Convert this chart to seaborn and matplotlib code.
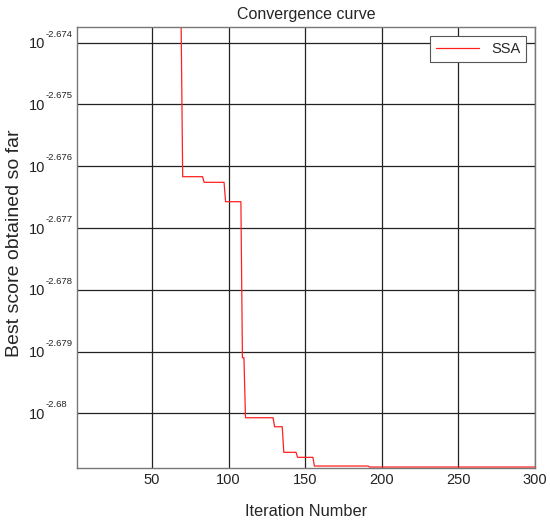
import matplotlib
matplotlib.use("Agg")
import matplotlib.pyplot as plt
import matplotlib.transforms as mtransforms
import numpy as np
import pandas as pd
import seaborn as sns

sns.set_style("white")
plt.rcParams["font.family"] = ["Liberation Sans", "DejaVu Sans"]

# values: iteration where each step starts, and log10 of the best score
step_start = [1, 70, 84, 98, 109, 111, 130, 136, 145, 156, 192]
step_exponent = [-2.67375, -2.676169, -2.67626, -2.676574, -2.6791, -2.680071,
                 -2.680217, -2.680631, -2.680712, -2.680853, -2.680869]
n_iter = 300

x_ticks = [50, 100, 150, 200, 250, 300]
y_tick_exponents = [-2.674, -2.675, -2.676, -2.677, -2.678, -2.679, -2.68]
y_tick_labels = ["-2.674", "-2.675", "-2.676", "-2.677", "-2.678", "-2.679", "-2.68"]

iterations = np.arange(1, n_iter + 1)
lengths = np.diff(step_start + [n_iter + 1])
best_score = 10 ** np.repeat(step_exponent, lengths)
df = pd.DataFrame({"Iteration": iterations, "Best": best_score})

fig = plt.figure(figsize=(5.5, 5.21), dpi=100)
ax = fig.add_axes([0.14, 0.1017, 0.8327, 0.846])

sns.lineplot(data=df, x="Iteration", y="Best", color="#ff2020", linewidth=0.9,
             label="SSA", ax=ax)

ax.set_yscale("log")
ax.set_xlim(1, 300)
ax.set_ylim(10 ** -2.680885, 10 ** -2.67375)
ax.set_xticks(x_ticks)
ax.set_xticklabels([str(t) for t in x_ticks])
ax.set_yticks([10 ** e for e in y_tick_exponents])
ax.set_yticklabels(["10"] * len(y_tick_exponents))
ax.yaxis.set_minor_locator(matplotlib.ticker.NullLocator())
ax.tick_params(axis="both", labelsize=10.5, direction="in", length=3, colors="#222222")
ax.tick_params(axis="y", pad=23)

# MATLAB-style small exponents next to the "10"
trans = mtransforms.blended_transform_factory(ax.transAxes, ax.transData)
for e, s in zip(y_tick_exponents, y_tick_labels):
    ax.annotate(s, xy=(0, 10 ** e), xycoords=trans, xytext=(-31, 4),
                textcoords="offset pixels", ha="left", va="bottom",
                fontsize=6.8, color="#222222", annotation_clip=False)

ax.grid(True, color="#222222", linewidth=0.9, linestyle="-")
for s in ax.spines.values():
    s.set_color("#777777")
    s.set_linewidth(1.0)

ax.set_title("Convergence curve", fontsize=11.5, pad=6)
ax.set_xlabel("Iteration Number", fontsize=11.8, labelpad=12)
ax.set_ylabel("Best score obtained so far", fontsize=14)
ax.yaxis.set_label_coords(-0.118, 0.51)

leg = ax.legend(loc="upper right", fontsize=10.5, frameon=True, fancybox=False,
                borderaxespad=0.6, handlelength=3.0)
leg.get_frame().set_edgecolor("#555555")
leg.get_frame().set_linewidth(0.8)
leg.get_frame().set_alpha(1.0)

fig.savefig("out.png", dpi=100)
